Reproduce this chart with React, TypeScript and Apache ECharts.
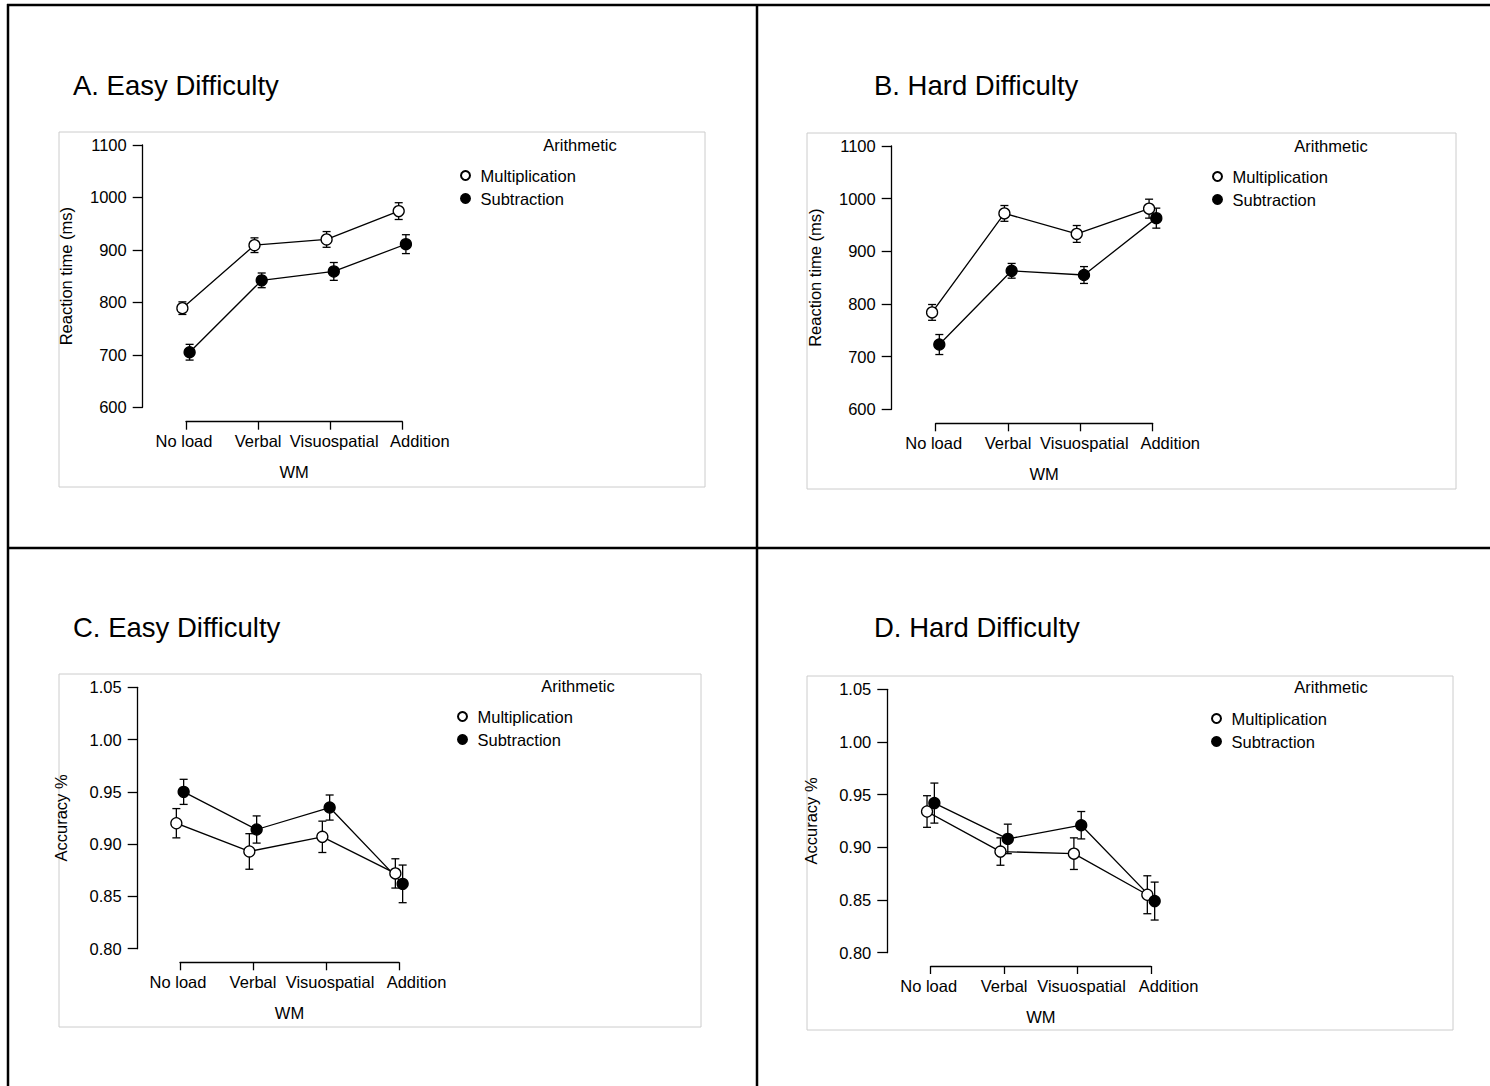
import React, { useEffect, useRef } from 'react';
import * as echarts from 'echarts';

// ---------- data ----------
const categories = ['No load', 'Verbal', 'Visuospatial', 'Addition'];
const seriesNames = ['Multiplication', 'Subtraction'];
const panelTitles = ['A. Easy Difficulty', 'B. Hard Difficulty', 'C. Easy Difficulty', 'D. Hard Difficulty'];
const legendTitle = 'Arithmetic';
const xAxisName = 'WM';
const rtAxisName = 'Reaction time (ms)';
const accAxisName = 'Accuracy %';
const rtTicks = [600, 700, 800, 900, 1000, 1100];
const accTicks = [0.8, 0.85, 0.9, 0.95, 1.0, 1.05];

const rtEasyMult = [789, 909, 920, 974];
const rtEasyMultErr = [12, 14, 15, 16];
const rtEasySub = [705, 842, 859, 911];
const rtEasySubErr = [15, 14, 17, 18];

const rtHardMult = [784, 972, 933, 981];
const rtHardMultErr = [15, 15, 16, 18];
const rtHardSub = [723, 863, 855, 963];
const rtHardSubErr = [19, 14, 16, 19];

const accEasyMult = [0.92, 0.893, 0.907, 0.872];
const accEasyMultErr = [0.014, 0.017, 0.015, 0.014];
const accEasySub = [0.95, 0.914, 0.935, 0.862];
const accEasySubErr = [0.012, 0.013, 0.012, 0.018];

const accHardMult = [0.934, 0.896, 0.894, 0.855];
const accHardMultErr = [0.015, 0.013, 0.015, 0.018];
const accHardSub = [0.942, 0.908, 0.921, 0.849];
const accHardSubErr = [0.019, 0.014, 0.013, 0.018];

// ---------- layout / style ----------
const FONT = 'Arial, "Liberation Sans", Helvetica, sans-serif';
const FS = 16.5;
const DODGE = 0.05;

const panels = [
  {
    title: panelTitles[0], yName: rtAxisName, ticks: rtTicks, dec: 0,
    mult: rtEasyMult, multErr: rtEasyMultErr, sub: rtEasySub, subErr: rtEasySubErr,
    grid: { left: 186, top: 145, width: 216.3, height: 262.3 }, yOff: 43.3, xOff: 14.4,
    titlePos: [73, 85], frame: [59, 132, 646, 355], legend: [455, 162], arith: [580, 145],
  },
  {
    title: panelTitles[1], yName: rtAxisName, ticks: rtTicks, dec: 0,
    mult: rtHardMult, multErr: rtHardMultErr, sub: rtHardSub, subErr: rtHardSubErr,
    grid: { left: 935.7, top: 146, width: 217, height: 263.3 }, yOff: 44, xOff: 14,
    titlePos: [874, 85], frame: [807, 133, 649, 356], legend: [1207, 163], arith: [1331, 146],
  },
  {
    title: panelTitles[2], yName: accAxisName, ticks: accTicks, dec: 2,
    mult: accEasyMult, multErr: accEasyMultErr, sub: accEasySub, subErr: accEasySubErr,
    grid: { left: 180, top: 687.3, width: 219, height: 261.4 }, yOff: 42.3, xOff: 13.6,
    titlePos: [73, 627], frame: [59, 674, 642, 353], legend: [452, 703], arith: [578, 686],
  },
  {
    title: panelTitles[3], yName: accAxisName, ticks: accTicks, dec: 2,
    mult: accHardMult, multErr: accHardMultErr, sub: accHardSub, subErr: accHardSubErr,
    grid: { left: 930.7, top: 689.3, width: 220.3, height: 263.4 }, yOff: 43.4, xOff: 13.3,
    titlePos: [874, 627], frame: [807, 676, 646, 354], legend: [1206, 705], arith: [1331, 687],
  },
];

const labelShift = [-4, 0, 8, 35];

function errorRender(params: any, api: any) {
  const x = api.value(0);
  const lo = api.value(1);
  const hi = api.value(2);
  const p1 = api.coord([x, hi]);
  const p2 = api.coord([x, lo]);
  const w = 4;
  const st = { stroke: '#000', lineWidth: 1.3 };
  return {
    type: 'group',
    children: [
      { type: 'line', shape: { x1: p1[0], y1: p1[1], x2: p2[0], y2: p2[1] }, style: st },
      { type: 'line', shape: { x1: p1[0] - w, y1: p1[1], x2: p1[0] + w, y2: p1[1] }, style: st },
      { type: 'line', shape: { x1: p2[0] - w, y1: p2[1], x2: p2[0] + w, y2: p2[1] }, style: st },
    ],
  };
}

function buildOption() {
  const grid: any[] = [];
  const xAxis: any[] = [];
  const yAxis: any[] = [];
  const series: any[] = [];
  const legend: any[] = [];
  const graphic: any[] = [];

  panels.forEach((p, i) => {
    grid.push({ ...p.grid, containLabel: false });
    const ticks = p.ticks;
    const step = ticks[1] - ticks[0];
    xAxis.push({
      gridIndex: i, type: 'value', min: 0, max: categories.length - 1, interval: 1,
      offset: p.xOff,
      name: xAxisName, nameLocation: 'middle', nameGap: 42,
      nameTextStyle: { fontFamily: FONT, fontSize: FS, color: '#000' },
      axisLine: { show: true, onZero: false, lineStyle: { color: '#000', width: 1.3 } },
      axisTick: { show: true, length: 8, lineStyle: { color: '#000', width: 1.3 } },
      splitLine: { show: false },
      axisLabel: {
        margin: 11, fontFamily: FONT, fontSize: FS, color: '#000', showMinLabel: true, showMaxLabel: true,
        formatter: (v: number) => {
          const k = Math.round(v);
          return `{c${k}|${categories[k] ?? ''}}`;
        },
        rich: Object.fromEntries(
          categories.map((_, k) => [
            `c${k}`,
            {
              fontFamily: FONT, fontSize: FS, color: '#000',
              padding: labelShift[k] >= 0 ? [0, 0, 0, labelShift[k]] : [0, -labelShift[k], 0, 0],
            },
          ])
        ),
      },
    });
    yAxis.push({
      gridIndex: i, type: 'value', min: ticks[0], max: ticks[ticks.length - 1], interval: step,
      offset: p.yOff,
      name: p.yName, nameLocation: 'middle', nameGap: 68,
      nameTextStyle: { fontFamily: FONT, fontSize: FS, color: '#000' },
      axisLine: { show: true, onZero: false, lineStyle: { color: '#000', width: 1.3 } },
      axisTick: { show: true, length: 10, lineStyle: { color: '#000', width: 1.3 } },
      splitLine: { show: false },
      axisLabel: {
        margin: 16, fontFamily: FONT, fontSize: FS, color: '#000',
        formatter: (v: number) => v.toFixed(p.dec),
      },
    });

    const groups = [
      { name: seriesNames[0], vals: p.mult, errs: p.multErr, dx: -DODGE, fill: '#fff' },
      { name: seriesNames[1], vals: p.sub, errs: p.subErr, dx: DODGE, fill: '#000' },
    ];
    groups.forEach((g) => {
      series.push({
        type: 'custom', xAxisIndex: i, yAxisIndex: i, z: 2, silent: true,
        renderItem: errorRender, clip: false,
        encode: { x: 0, y: [1, 2] },
        data: g.vals.map((v, k) => [k + g.dx, v - g.errs[k], v + g.errs[k]]),
      });
    });
    groups.forEach((g) => {
      series.push({
        type: 'line', name: g.name, xAxisIndex: i, yAxisIndex: i, z: 3, clip: false,
        symbol: 'circle', symbolSize: 11, showSymbol: true,
        itemStyle: { color: g.fill, borderColor: '#000', borderWidth: 1.3 },
        lineStyle: { color: '#000', width: 1.3 },
        data: g.vals.map((v, k) => [k + g.dx, v]),
      });
    });

    legend.push({
      orient: 'vertical', left: p.legend[0], top: p.legend[1],
      data: seriesNames, icon: 'circle', itemWidth: 20, itemHeight: 9, itemGap: 6,
      selectedMode: false,
      textStyle: { fontFamily: FONT, fontSize: FS, color: '#000' },
    });

    graphic.push({
      type: 'rect', shape: { x: p.frame[0], y: p.frame[1], width: p.frame[2], height: p.frame[3] },
      style: { fill: 'none', stroke: '#cccccc', lineWidth: 1 }, z: 0, silent: true,
    });
    graphic.push({
      type: 'text', x: p.titlePos[0], y: p.titlePos[1],
      style: { text: p.title, fontFamily: FONT, fontSize: 27.5, fill: '#000', textAlign: 'left', textVerticalAlign: 'middle' },
    });
    graphic.push({
      type: 'text', x: p.arith[0], y: p.arith[1],
      style: { text: legendTitle, fontFamily: FONT, fontSize: FS, fill: '#000', textAlign: 'center', textVerticalAlign: 'middle' },
    });
  });

  const lineStyle = { stroke: '#000', lineWidth: 2.5 };
  graphic.push({ type: 'line', shape: { x1: 7, y1: 5, x2: 1490, y2: 5 }, style: lineStyle, silent: true });
  graphic.push({ type: 'line', shape: { x1: 8, y1: 4, x2: 8, y2: 1086 }, style: lineStyle, silent: true });
  graphic.push({ type: 'line', shape: { x1: 757, y1: 4, x2: 757, y2: 1086 }, style: lineStyle, silent: true });
  graphic.push({ type: 'line', shape: { x1: 7, y1: 548, x2: 1490, y2: 548 }, style: lineStyle, silent: true });

  return {
    animation: false,
    backgroundColor: '#fff',
    textStyle: { fontFamily: FONT },
    grid, xAxis, yAxis, series, legend, graphic,
  };
}

export default function App() {
  const ref = useRef<HTMLDivElement>(null);
  useEffect(() => {
    if (!ref.current) return;
    const chart = echarts.init(ref.current, undefined, { renderer: 'svg' });
    chart.setOption(buildOption() as any);
    return () => chart.dispose();
  }, []);
  return (
    <div
      ref={ref}
      style={{ position: 'fixed', left: 0, top: 0, width: 1490, height: 1086, background: '#fff' }}
    />
  );
}
